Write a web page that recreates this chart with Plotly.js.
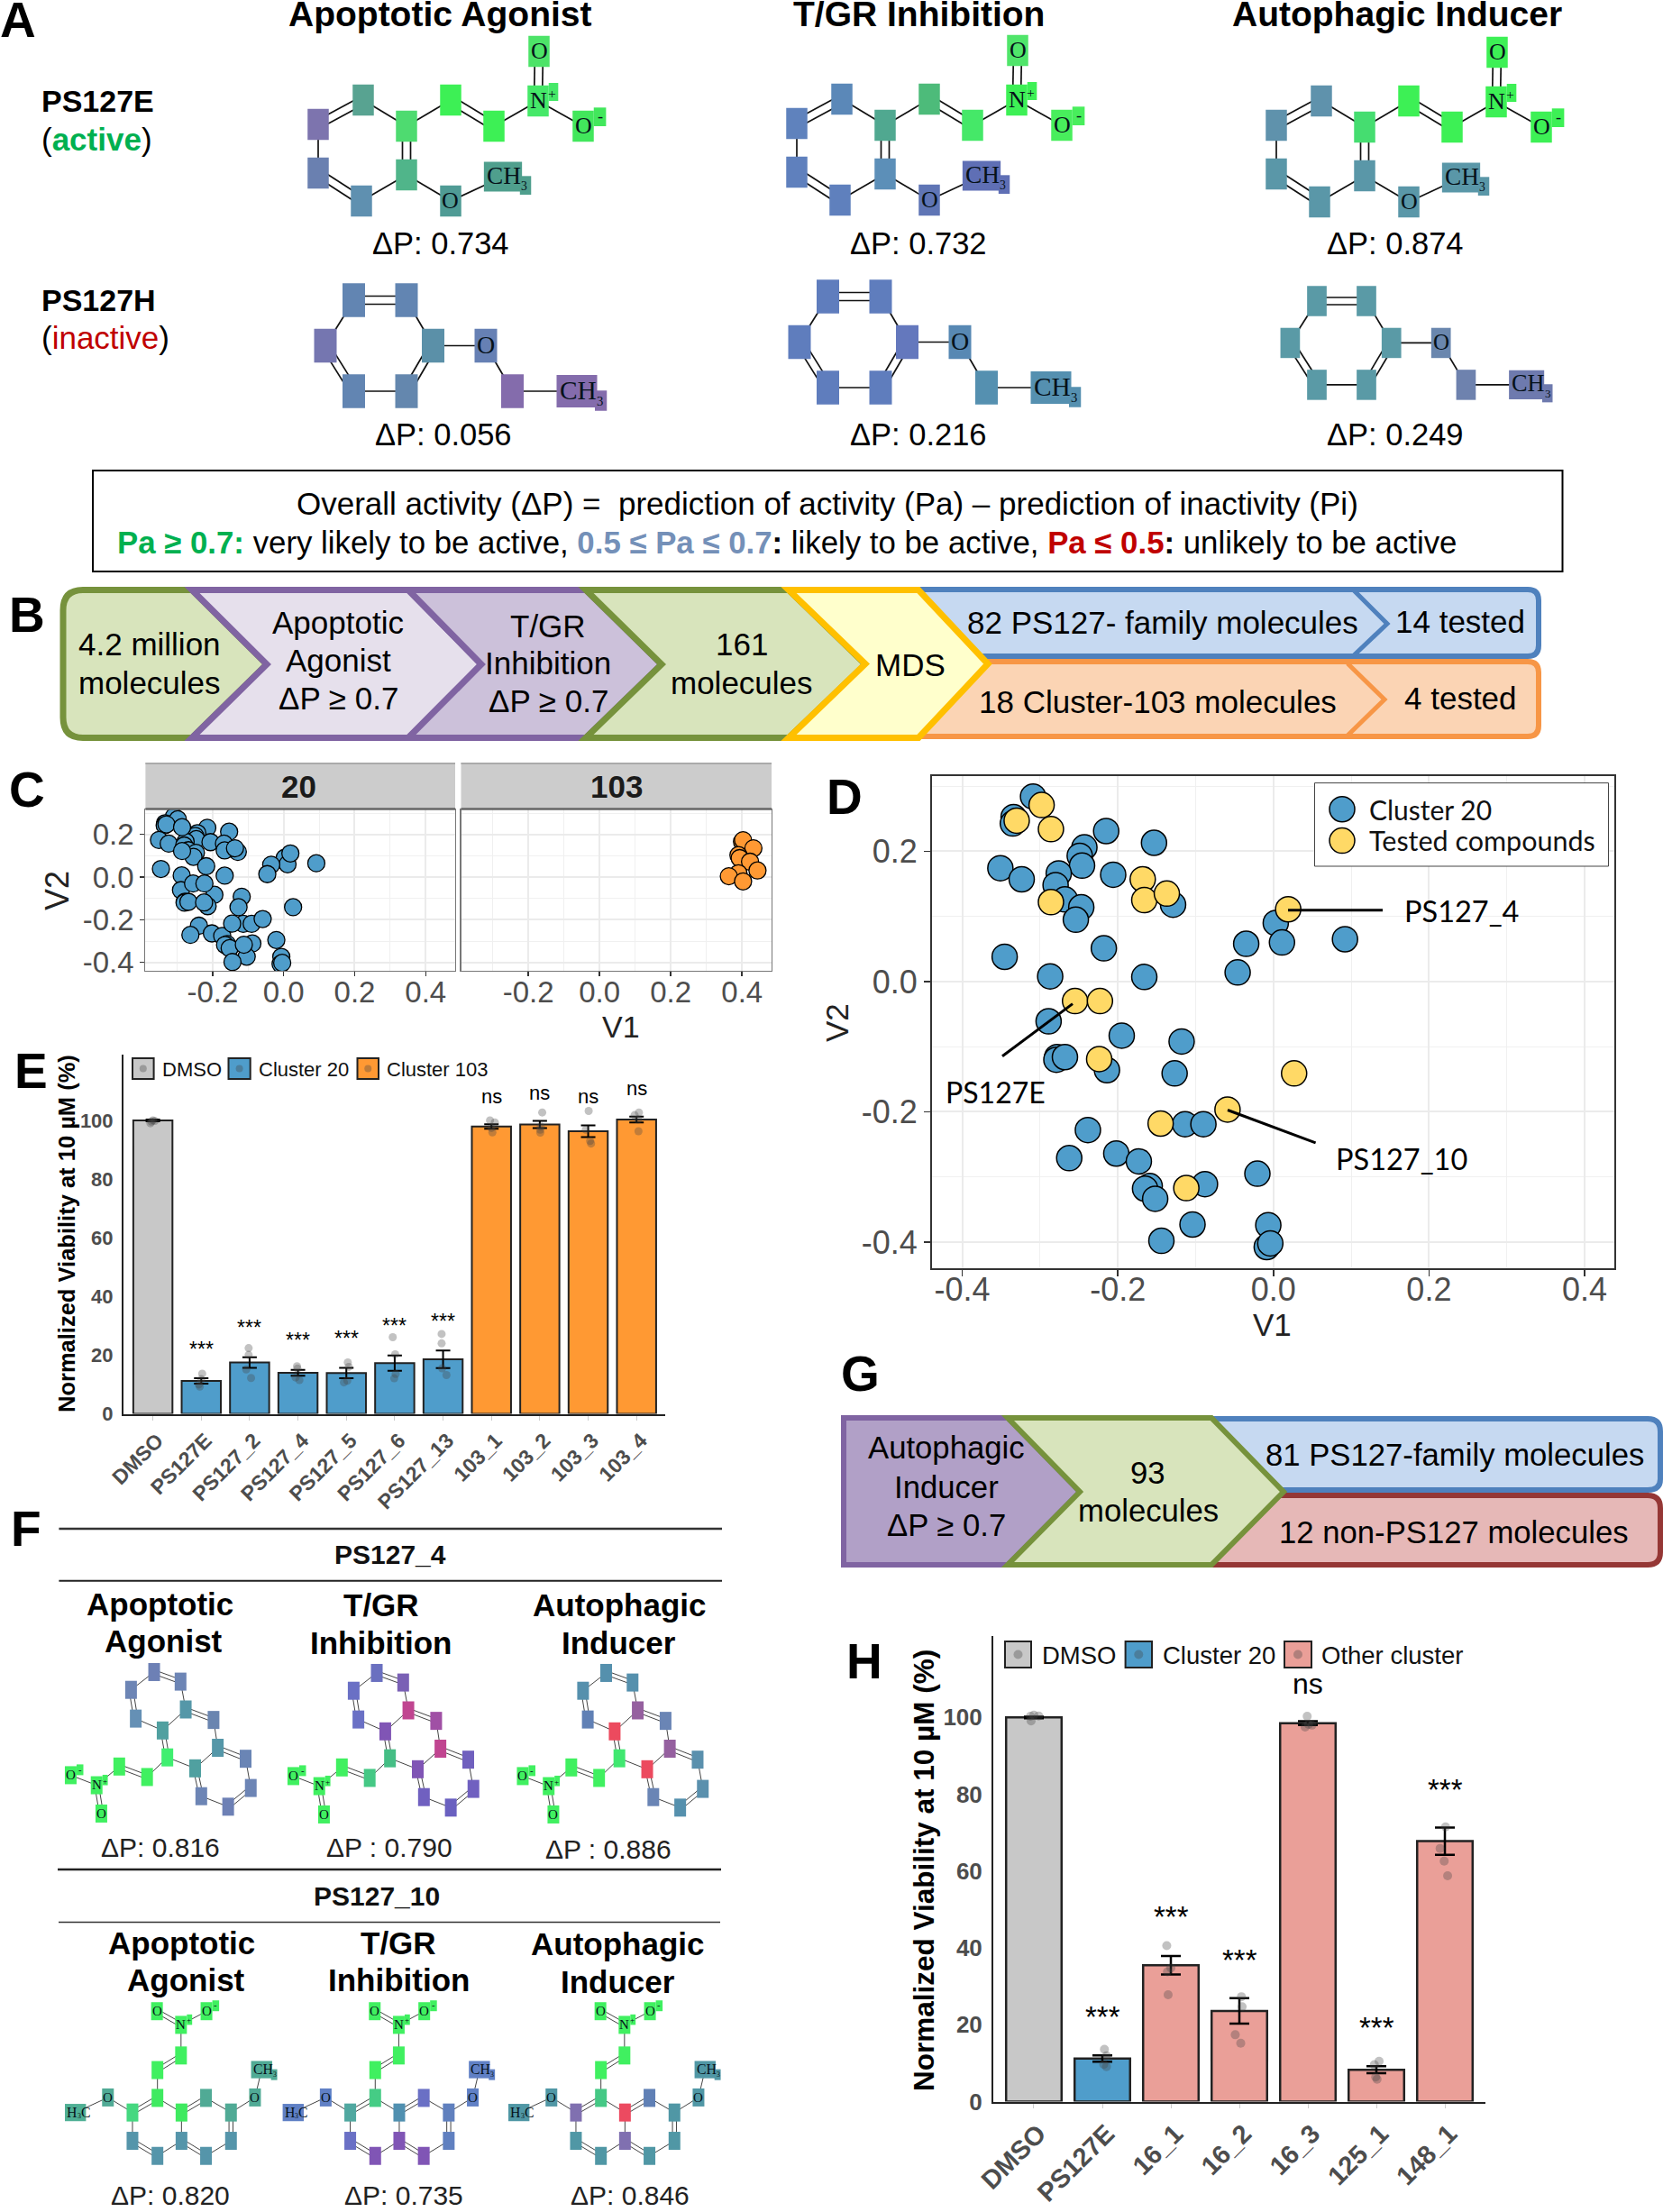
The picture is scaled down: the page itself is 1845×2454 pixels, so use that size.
<!DOCTYPE html>
<html><head><meta charset="utf-8">
<script src="https://cdn.plot.ly/plotly-3.0.1.min.js"></script>
<style>html,body{margin:0;padding:0;background:#fff}#g{width:1845px;height:2454px}</style>
</head><body><div id="g"></div>
<script>
// ---------- data ----------
const cluster20V1=[-0.309,-0.334,-0.335,-0.215,-0.1535,-0.243,-0.249,-0.246,-0.351,-0.3236,-0.276,-0.28,-0.206,-0.268,-0.247,-0.254,-0.129,0.003,0.011,0.092,-0.035,-0.046,-0.218,-0.3455,-0.287,-0.166,-0.289,-0.195,-0.118,-0.278,-0.279,-0.268,-0.214,-0.127,-0.2385,-0.1136,-0.09,-0.2625,-0.202,-0.173,-0.159,-0.165,-0.152,-0.088,-0.0206,-0.104,-0.144,-0.0066,-0.0086,-0.004];
const cluster20V2=[0.284,0.2525,0.2426,0.231,0.213,0.206,0.193,0.178,0.174,0.157,0.166,0.148,0.164,0.126,0.114,0.095,0.118,0.09,0.06,0.065,0.058,0.014,0.051,0.038,0.008,0.007,-0.061,-0.083,-0.092,-0.116,-0.12,-0.116,-0.136,-0.141,-0.228,-0.219,-0.219,-0.271,-0.264,-0.276,-0.314,-0.318,-0.3335,-0.311,-0.295,-0.373,-0.398,-0.374,-0.4076,-0.402];
const testedV1=[-0.298,-0.33,-0.286,-0.168,-0.166,-0.137,-0.286,0.019,-0.255,-0.223,-0.224,0.0266,-0.059,-0.145,-0.112];
const testedV2=[0.271,0.247,0.234,0.157,0.125,0.135,0.122,0.111,-0.03,-0.03,-0.119,-0.141,-0.1965,-0.218,-0.317];
const cluster103V1=[0.4,0.403,0.432,0.39,0.3935,0.4226,0.4435,0.39,0.363,0.403];
const cluster103V2=[0.166,0.173,0.135,0.103,0.089,0.072,0.031,0.018,0.004,-0.02];
const mdsTicks=[-0.4,-0.2,0,0.2,0.4];
const mdsTickText=['-0.4','-0.2','0.0','0.2','0.4'];

const eLabels=['DMSO','PS127E','PS127_2','PS127_4','PS127_5','PS127_6','PS127_13','103_1','103_2','103_3','103_4'];
const eMeans=[100,11.2,17.5,14,13.9,17.3,18.6,97.9,98.6,96.3,100.3];
const eErrors=[0.3,0.9,1.8,1,1.75,2.6,3,0.8,1.2,2,1];
const eGroups=[0,1,1,1,1,1,1,2,2,2,2];
const eSig=['','***','***','***','***','***','***','ns','ns','ns','ns'];
const eSigPos=[0,23.1,30.7,26.3,26.9,31.25,32.8,105.9,107,105.6,108.6];
const ePoints=[[99,100,99.8,99.6],[13.7,11.8,10,9.3],[22.4,20.1,15.1,12.2],[16.2,15.4,12.4,11.5],[17.5,16,11.3,10.7],[26.1,20.3,13.6,12.1],[27.2,24,15.5,13.2],[100,99.3,97.4,95.9],[102.7,97.9,96.8,95.8],[103.2,96.8,93,92.1],[102.7,101.8,100.3,96.3]];
const eJitter=[[-.05,0,.04,-.03],[.02,0,-.05,-.03],[-.02,-.02,-.07,.03],[-.02,-.01,-.05,.03],[.03,.05,.02,-.05],[-.04,.01,.02,-.01],[-.03,-.03,-.02,.07],[-.03,.07,0,.02],[.05,.02,.01,.01],[.01,-.05,.04,.06],[.05,-.04,.03,.04]];

const hLabels=['DMSO','PS127E','16_1','16_2','16_3','125_1','148_1'];
const hMeans=[100,11.2,35.5,23.6,98.5,8.3,67.8];
const hErrors=[0.2,0.8,2.4,3.3,0.5,0.9,3.55];
const hGroups=[0,1,2,2,2,2,2];
const hSig=['','***','***','***','ns','***','***'];
const hSigPos=[0,23.4,49.4,38.2,106.2,20.75,82.7];
const hPoints=[[100.3,100.6,100.4,99.1],[13.6,11.9,9.7,9.1],[40.6,34.8,33.8,27.8],[27.3,24.7,17.4,15.2],[100.3,98,97.5,98.2],[10.5,9.6,6.4,5.8],[71.5,65.9,62.6,58.8]];
const hJitter=[[-.05,0,.07,-.04],[.03,.06,.02,.06],[-.06,0,-.05,-.04],[.03,.04,-.06,.02],[-.01,.06,-.04,.01],[.04,-.03,-.01,.01],[.01,-.07,-.01,.04]];

// ---------- page helpers ----------
const W=1845,H=2454,SANS='Liberation Sans, Arial, sans-serif',SERIF='Liberation Serif, serif',CAL='Lato, sans-serif';
const px=x=>x/W, py=y=>1-y/H;
const shapes=[],ann=[];
function rect(x0,y0,x1,y1,fill,line,lw){shapes.push({type:'rect',xref:'paper',yref:'paper',x0:px(x0),x1:px(x1),y0:py(y1),y1:py(y0),fillcolor:fill,line:{color:line||fill,width:line?(lw||1):0}});}
function seg(x0,y0,x1,y1,c,lw){shapes.push({type:'line',xref:'paper',yref:'paper',x0:px(x0),x1:px(x1),y0:py(y0),y1:py(y1),line:{color:c,width:lw}});}
function circ(cx,cy,r,fill,line,lw){shapes.push({type:'circle',xref:'paper',yref:'paper',x0:px(cx-r),x1:px(cx+r),y0:py(cy+r),y1:py(cy-r),fillcolor:fill,line:{color:line||fill,width:line?lw:0}});}
function path(cmds,fill,line,lw){
  const d=cmds.map(c=>{const o=[c[0]];for(let i=1;i<c.length;i+=2){o.push(px(c[i]));o.push(py(c[i+1]));}return o.join(' ');}).join(' ')+' Z';
  shapes.push({type:'path',xref:'paper',yref:'paper',path:d,fillcolor:fill,line:{color:line,width:lw}});
}
function poly(pts,fill,line,lw){path(pts.map((p,i)=>[i?'L':'M',p[0],p[1]]),fill,line,lw);}
// horizontal text: x + baseline y; rotated text: x,y are the centre
function T(text,x,base,size,o){o=o||{};
  const y=o.rot?base:base-size*0.35;
  ann.push({text:text,xref:'paper',yref:'paper',x:px(x),y:py(y),xanchor:o.a||'center',yanchor:'middle',showarrow:false,borderpad:0,
    textangle:o.rot||0,font:{family:o.f||SANS,size:size,color:o.c||'#000'}});
}

// ---------- panel letters ----------
[['A',-1,41],['B',9,701],['C',9,895],['D',916,903],['E',15,1207],['F',11,1715],['G',932,1543],['H',938,1862]].forEach(l=>T('<b>'+l[0]+'</b>',l[1],l[2],55,{a:'left'}));

// ---------- molecule drawing ----------
function mol(def,colors,o){
  const X=x=>o.ox+(x-def.x0)*(o.sx||1), Y=y=>o.oy+(y-def.y0)*(o.sy||1);
  const lw=o.lw||1.5,dbl=o.dbl||4,bc=o.bc||'#111';
  def.bonds.forEach(b=>{
    const p=def.atoms[b[0]],q=def.atoms[b[1]];
    const x0=X(p[0]),y0=Y(p[1]),x1=X(q[0]),y1=Y(q[1]);
    if(b[2]===2){const dx=x1-x0,dy=y1-y0,l=Math.hypot(dx,dy),nx=-dy/l*dbl,ny=dx/l*dbl;
      seg(x0+nx,y0+ny,x1+nx,y1+ny,bc,lw);seg(x0-nx,y0-ny,x1-nx,y1-ny,bc,lw);
    } else seg(x0,y0,x1,y1,bc,lw);
  });
  Object.keys(def.atoms).forEach((k,i)=>{
    const a=def.atoms[k],cx=X(a[0]),cy=Y(a[1]),t=a[2]||'C',c=colors[i],w=o.w,h=o.h,fs=o.fs,lc='#06121a';
    const L=(s,x,b,sz,an)=>ann.push({text:s,xref:'paper',yref:'paper',x:px(x),y:py(b-sz*0.35),xanchor:an||'center',yanchor:'middle',showarrow:false,borderpad:0,font:{family:SERIF,size:sz,color:lc}});
    if(t==='CH3'||t==='H3C'){
      const ww=w*1.8,hh=h*0.96,lf=cx-ww/2,f=fs*1.05;
      rect(lf,cy-hh/2,cx+ww/2,cy+hh/2,c);
      if(t==='CH3'){
        rect(cx+ww/2-w*0.1,cy-h*0.02,cx+ww/2+w*0.43,cy+h*0.58,c);
        L('CH',lf+w*0.1,cy+f*0.31,f,'left');
        L('3',lf+w*0.1+f*1.39,cy+f*0.55,f*0.5,'left');
      } else {
        L('H',lf+w*0.1,cy+f*0.31,f,'left');
        L('3',lf+w*0.1+f*0.72,cy+f*0.45,f*0.5,'left');
        L('C',lf+w*0.1+f*0.98,cy+f*0.31,f,'left');
      }
    } else {
      rect(cx-w/2,cy-h/2,cx+w/2,cy+h/2,c);
      if(t==='N'){rect(cx+w/2,cy-h*0.58,cx+w*0.95,cy,c);L('N',cx,cy+fs*0.33,fs);L('+',cx+w*0.68,cy-fs*0.12,fs*0.6);}
      if(t==='O')L('O',cx,cy+fs*0.33,fs);
      if(t==='Om'){rect(cx+w/2,cy-h*0.6,cx+w*1.08,cy,c);L('O',cx,cy+fs*0.33,fs);L('-',cx+w*0.8,cy-fs*0.18,fs*0.7);}
    }
  });
}
const G1='#3DF055',G2='#45E868';
// PS127E
const molE={x0:353,y0:138,atoms:{a1:[353,138],a2:[403,111],a3:[451,140],a4:[500,111],a5:[548,140],N:[597,112,'N'],Ot:[598,57,'O'],Om:[647,140,'Om'],a6:[451,194],a7:[353,192],a8:[401,223],O:[500,223,'O'],CH:[558,196,'CH3']},
 bonds:[['a1','a2',2],['a2','a3'],['a3','a4'],['a4','a5',2],['a5','N'],['N','Ot',2],['N','Om'],['a3','a6',2],['a6','O'],['O','CH'],['a6','a8'],['a8','a7',2],['a7','a1']]};
const optE={w:23.5,h:34.5,fs:26,lw:1.7,dbl:4.5};
mol(molE,['#7D74AE','#58A391','#4EDB70',G1,G1,G2,'#4DE368','#42E75C','#50B58A','#6A80B0','#5F90B0','#4F9B95','#4F9F8D'],{...optE,ox:353,oy:138});
mol(molE,['#5F82BD','#5B88B8','#50A890','#4DBB7A',G2,G1,'#50E56A','#48EE5C','#5C8FB8','#5F80BD','#5F80BD','#5F75B5','#5F6FB5'],{...optE,ox:884,oy:137});
mol(molE,['#5F92AC','#5F92AC','#45DD70',G1,G1,G1,G1,G1,'#5A97A8','#5A97A8','#5A97A8','#5A97A8','#5A97A8'],{...optE,ox:1416,oy:139});
// PS127H
const molH={x0:392.5,y0:333,atoms:{b1:[392.5,333],b2:[451,333],b3:[480.5,383.5],b4:[451,434],b5:[392.5,434],b6:[361,383.5],O:[539,383.5,'O'],c:[568.5,434],CH:[640,434,'CH3']},
 bonds:[['b1','b2',2],['b2','b3'],['b3','b4',2],['b4','b5'],['b5','b6',2],['b6','b1'],['b3','O'],['O','c'],['c','CH']]};
mol(molH,['#6285B2','#6285B2','#5B90A8','#6487AE','#6285B2','#7576B0','#6680B4','#846CAC','#846CAC'],{w:25,h:37.5,fs:28,lw:1.7,dbl:4.5,ox:392.5,oy:333});
mol(molH,['#5F7DBD','#5F7DBD','#6478BD','#5F7DBD','#5F7DBD','#5F7DBD','#5788B3','#5590B0','#5590B0'],{w:25,h:37.5,fs:28,lw:1.7,dbl:4.5,ox:918.5,oy:329});
mol(molH,['#5A9AA6','#5A9AA6','#5A9AA6','#5A9AA6','#5A9AA6','#5A9AA6','#6A87AE','#6E82AE','#6E7AAE'],{w:21.7,h:33.5,fs:25,lw:1.7,dbl:4,sx:0.94,sy:0.92,ox:1461,oy:334});

// PS127_4 / PS127_10 are read in panel-F pixel units
const zx=z=>z*0.523, zy=z=>1660+z*0.5064;
function zAtoms(o){const r={};Object.keys(o).forEach(k=>{r[k]=[zx(o[k][0]),zy(o[k][1]),o[k][2]];});return r;}
const mol4={atoms:zAtoms({r1:[327,385],r2:[383,406],r3:[278,424],r4:[288,487],r5:[394,467],r6:[453,490],r7:[345,513],r8:[355,572],r9:[462,551],r10:[521,575],r11:[414,596],r12:[532,639],r13:[427,657],r14:[484,680],c1:[312,615],c2:[253,592],N:[205,633,'N'],Om:[150,611,'Om'],O:[215,695,'O']}),
 bonds:[['r1','r2',2],['r2','r5'],['r1','r3'],['r3','r4',2],['r4','r7'],['r5','r6',2],['r5','r7'],['r7','r8',2],['r8','r11'],['r11','r9'],['r9','r10',2],['r6','r9'],['r10','r12'],['r12','r14',2],['r14','r13'],['r13','r11',2],['r8','c1'],['c1','c2',2],['c2','N'],['N','Om'],['N','O',2]]};
mol4.x0=mol4.atoms.r1[0];mol4.y0=mol4.atoms.r1[1];
const optF={w:13,h:20,fs:15,lw:1,dbl:2.2,bc:'#444'};
const g='#40F060';
mol(mol4,['#6D80B5','#6D85B5','#6D85B5','#6590B5','#5597A8','#6A85B0','#50A0A0','#3FEF70','#5597A8','#6A85B5','#50A0A0','#6D85B5','#6D85B5','#6D80B5',g,g,g,g,g],{...optF,ox:mol4.x0,oy:mol4.y0});
mol(mol4,['#6A70C0','#7A60B5','#6A70C5','#6A70C5','#C04590','#A050A5','#8055B5','#45BE85','#C04590','#7060BE','#8055B5','#7060C0','#7060C0','#6A60C0','#45C885',g,g,g,g],{...optF,ox:mol4.x0+247,oy:mol4.y0+1});
mol(mol4,['#5590AD','#5590AD','#5590AD','#6080B5','#95609F','#6A85B5','#EC4A5E','#40E870','#95609F','#5A90AD','#EC4A5E','#5A90AD','#6A85B5','#5590AD',g,g,g,g,g],{...optF,ox:mol4.x0+501.5,oy:mol4.y0+1});
const mol10={atoms:zAtoms({O1:[333,1128,'O'],Om:[438,1128,'Om'],N:[384,1158,'N'],c1:[384,1225],c2:[334,1257],a:[334,1318],b:[281,1350],d:[385,1350],e:[437,1318],f:[490,1350],g:[281,1412],h:[334,1445],i:[385,1412],j:[437,1445],k:[490,1412],Ol:[229,1317,'O'],HC:[160,1350,'H3C'],Or:[541,1317,'O'],CH:[555,1256,'CH3']}),
 bonds:[['O1','N',2],['Om','N'],['N','c1'],['c1','c2',2],['c2','a'],['a','b',2],['a','d'],['d','e',2],['e','f'],['f','k',2],['k','j'],['j','i',2],['i','d'],['i','h'],['h','g',2],['g','b'],['b','Ol'],['Ol','HC'],['f','Or'],['Or','CH']]};
mol10.x0=mol10.atoms.c1[0];mol10.y0=mol10.atoms.c1[1];
mol(mol10,[g,g,g,g,g,'#3FEA60','#45D880','#3FEA60','#50AA95','#50AA95','#5595AA','#5595AA','#5595AA','#5595AA','#5595AA','#50AA95','#50B095','#50AA95','#50AA95'],{...optF,ox:mol10.x0,oy:mol10.y0});
mol(mol10,[g,g,g,g,g,'#45CC85','#50A8A0','#5090B0','#6A70C5','#6080BE','#6A70C5','#8055B5','#8055B5','#8055B5','#6080C0','#6080C5','#6080C5','#6080C5','#6080C5'],{...optF,ox:mol10.x0+241.6,oy:mol10.y0});
mol(mol10,[g,g,g,g,g,'#45C885','#8070B0','#EC4A60','#6080B5','#5097A5','#5097A5','#5097A5','#8070B0','#5097A5','#5097A5','#5097A5','#5097A5','#5097A5','#5097A5'],{...optF,ox:mol10.x0+492,oy:mol10.y0});

// ---------- panel A text ----------
[['Apoptotic Agonist',489],['T/GR Inhibition',1019],['Autophagic Inducer',1550]].forEach(t=>T('<b>'+t[0]+'</b>',t[1],29,39));
T('<b>PS127E</b>',45,124,34,{a:'left'});
T('(<b><span style="color:#00B050">active</span></b>)',45,167,35,{a:'left'});
T('<b>PS127H</b>',45,345,34,{a:'left'});
T('(<span style="color:#C00000">inactive</span>)',45,387,35,{a:'left'});
[['ΔP: 0.734',489,282],['ΔP: 0.732',1019,282],['ΔP: 0.874',1548,282],['ΔP: 0.056',492,494.5],['ΔP: 0.216',1019,494.5],['ΔP: 0.249',1548,494.5]].forEach(t=>T(t[0],t[1],t[2],34.5));
rect(103,522,1733.5,634,'rgba(0,0,0,0)','#000',2);
T('Overall activity (ΔP) =\u00A0\u00A0prediction of activity (Pa) – prediction of inactivity (Pi)',918,571,35);
T('<b><span style="color:#00B050">Pa ≥ 0.7:</span></b> very likely to be active, <b><span style="color:#7490B8">0.5 ≤ Pa ≤ 0.7</span>:</b> likely to be active, <b><span style="color:#C00000">Pa ≤ 0.5</span>:</b> unlikely to be active',873,614,34.8);

// ---------- panel B flow ----------
const GF='#D8E4BC',GL='#76923C',PL='#8064A2',LW=7;
path([['M',92,654.5],['L',213,654.5],['L',296,737],['L',213,818.5],['L',92,818.5],['Q',70,818.5,70,796],['L',70,677],['Q',70,654.5,92,654.5]],GF,GL,LW);
poly([[213,654.5],[453,654.5],[534,737],[453,818.5],[213,818.5],[296,737]],'#E6E0EC',PL,LW);
poly([[453,654.5],[650,654.5],[734,737],[650,818.5],[453,818.5],[534,737]],'#CCC1DA',PL,LW);
poly([[650,654.5],[875,654.5],[960,737],[875,818.5],[650,818.5],[734,737]],GF,GL,LW);
path([['M',1000,654],['L',1695,654],['Q',1707,654,1707,666],['L',1707,716],['Q',1707,728,1695,728],['L',1000,728]],'#C6D9F1','#4F81BD',6);
path([['M',1000,734],['L',1695,734],['Q',1707,734,1707,746],['L',1707,805],['Q',1707,817,1695,817],['L',1000,817]],'#FBD4B4','#F79646',6);
shapes.push({type:'path',xref:'paper',yref:'paper',path:`M ${px(1501)} ${py(654)} L ${px(1539)} ${py(692)} L ${px(1501)} ${py(728)}`,line:{color:'#4F81BD',width:5},fillcolor:'rgba(0,0,0,0)'});
shapes.push({type:'path',xref:'paper',yref:'paper',path:`M ${px(1495)} ${py(736)} L ${px(1536)} ${py(776)} L ${px(1495)} ${py(816)}`,line:{color:'#F79646',width:5},fillcolor:'rgba(0,0,0,0)'});
poly([[875,654.5],[1019,654.5],[1096,736.5],[1019,818.5],[875,818.5],[960,736.5]],'#FFFFCC','#FFC000',LW);
[['4.2 million',166,727],['molecules',166,770],['Apoptotic',375,703],['Agonist',375,745],['ΔP ≥ 0.7',375,787],['T/GR',608,707],['Inhibition',608,748],['ΔP ≥ 0.7',608,790],['161',823,727],['molecules',823,770],['MDS',1010,750],
 ['82 PS127- family molecules',1290,703],['14 tested',1620,702],['18 Cluster-103 molecules',1284,791],['4 tested',1620,787]].forEach(t=>T(t[0],t[1],t[2],35));

// ---------- panel C strips ----------
rect(161.4,846,505,897.7,'#CCCCCC');rect(511.5,846,856,897.7,'#CCCCCC');
seg(161.4,847,505,847,'#AAAAAA',2);seg(511.5,847,856,847,'#AAAAAA',2);
seg(161.4,897.5,505,897.5,'#666666',2.5);seg(511.5,897.5,856,897.5,'#666666',2.5);
T('<b>20</b>',331.7,885,35,{c:'#1a1a1a'});T('<b>103</b>',684,885,35,{c:'#1a1a1a'});
T('V1',689,1151,34,{c:'#222'});
T('V2',64,988,36,{c:'#222',rot:-90});

// ---------- panel D furniture ----------
rect(1458.5,868.6,1784.5,961,'#fff','#444',1);
circ(1489,897.7,14,'#4F9DCB','#000',1.5);circ(1489,932.6,14,'#FFD966','#000',1.5);
T('Cluster 20',1518,908,30,{a:'left',f:CAL,c:'#111'});T('Tested compounds',1518,943,30.5,{a:'left',f:CAL,c:'#111'});
seg(1429,1009.7,1534,1009.7,'#000',3);seg(1190,1113.6,1112,1171.7,'#000',3);seg(1362,1231.5,1459.6,1267.8,'#000',3);
T('PS127_4',1557,1022,32.5,{a:'left',f:CAL});T('PS127E',1048,1223,32,{a:'left',f:CAL});T('PS127_10',1481,1297,32.5,{a:'left',f:CAL});
T('V1',1411,1482,35,{c:'#222'});T('V2',929,1135,35,{c:'#222',rot:-90});

// ---------- panel E / H furniture ----------
function key(x0,x1,y0,y1,c,r){rect(x0,y0,x1,y1,c,'#222',2);circ((x0+x1)/2,(y0+y1)/2,r,'rgba(70,70,70,0.35)');}
key(147,170.6,1174,1197,'#C8C8C8',4);key(253.5,277.7,1174,1197,'#4F9DCB',4);key(396.5,420,1174,1197,'#FF9933',4);
T('DMSO',179,1194,22,{a:'left',c:'#111'});T('Cluster 20',286,1194,22,{a:'left',c:'#111'});T('Cluster 103',428,1194,22,{a:'left',c:'#111'});
T('<b>Normalized Viability at 10 µM (%)</b>',74,1369,25.5,{rot:-90});
key(1115,1144,1821,1850,'#C8C8C8',5);key(1248.6,1278,1821,1850,'#4F9DCB',5);key(1425,1455,1821,1850,'#EA9F98',5);
T('DMSO',1155,1846,27.5,{a:'left',c:'#111'});T('Cluster 20',1288.6,1846,27.5,{a:'left',c:'#111'});T('Other cluster',1465,1846,27.5,{a:'left',c:'#111'});
T('<b>Normalized Viability at 10 µM (%)</b>',1025,2075,31.5,{rot:-90});

// ---------- panel F text ----------
const LC='#333';
seg(65.4,1696,801,1696,LC,2.5);seg(65.4,1753.7,801,1753.7,'#222',2);seg(64,2074,800,2074,'#222',2.5);seg(65,2132.5,799,2132.5,LC,1.5);
T('<b>PS127_4</b>',432.5,1735,30,{c:'#111'});T('<b>PS127_10</b>',418,2114,30,{c:'#111'});
[['Apoptotic',177,1792],['Agonist',181.5,1833],['T/GR',422.6,1793],['Inhibition',422.6,1835],['Autophagic',686.7,1793],['Inducer',686.7,1835],
 ['Apoptotic',201,2167.4],['Agonist',206.6,2209],['T/GR',442,2167.4],['Inhibition',442,2209],['Autophagic',685,2169],['Inducer',685,2210.5]].forEach(t=>T('<b>'+t[0]+'</b>',t[1],t[2],35));
[['ΔP: 0.816',178,2060],['ΔP : 0.790',431.5,2060],['ΔP : 0.886',675,2061.5],['ΔP: 0.820',189,2446],['ΔP: 0.735',448,2446],['ΔP: 0.846',699,2446]].forEach(t=>T(t[0],t[1],t[2],30,{c:'#222'}));

// ---------- panel G flow ----------
path([['M',1346,1574],['L',1828,1574],['Q',1842,1574,1842,1588],['L',1842,1641],['Q',1842,1653,1828,1653],['L',1346,1653]],'#C6D9F1','#4F81BD',6);
path([['M',1346,1659],['L',1828,1659],['Q',1842,1659,1842,1673],['L',1842,1722],['Q',1842,1736,1828,1736],['L',1346,1736]],'#E6B8B7','#953735',6);
poly([[936,1573],[1118,1573],[1198,1655],[1118,1736],[936,1736]],'#B1A0C7',PL,6);
poly([[1118,1573],[1344,1573],[1424,1655],[1344,1736],[1118,1736],[1198,1655]],GF,GL,6);
[['Autophagic',1049.5,1618],['Inducer',1049.5,1662],['ΔP ≥ 0.7',1049.5,1704],['93',1273.7,1646],['molecules',1273.7,1688],['81 PS127-family molecules',1614,1626],['12 non-PS127 molecules',1613,1712]].forEach(t=>T(t[0],t[1],t[2],34.7));

// ---------- significance labels through the chart axes ----------
function sig(arr,pos,ax,size,nsSize){arr.forEach((s,i)=>{if(!s)return;
  const ns=s==='ns',fs=ns?nsSize:size;
  ann.push({text:s,xref:ax[0],yref:ax[1],x:i,y:pos[i],showarrow:false,xanchor:'center',yanchor:'middle',borderpad:0,yshift:ns?fs*0.35:-fs*0.18,font:{family:SANS,size:fs,color:'#000'}});
});}
sig(eSig,eSigPos,['x4','y4'],23,22);
sig(hSig,hSigPos,['x5','y5'],33,32);

// ---------- traces ----------
const BLUE='#4F9DCB',YEL='#FFD966',ORG='#FF9933',GREY='#C8C8C8',SALMON='#EA9F98';
const traces=[
 {type:'scatter',mode:'markers',x:cluster20V1.concat(testedV1),y:cluster20V2.concat(testedV2),xaxis:'x',yaxis:'y',marker:{size:19,color:BLUE,line:{color:'#000',width:1.3}}},
 {type:'scatter',mode:'markers',x:cluster103V1,y:cluster103V2,xaxis:'x2',yaxis:'y2',marker:{size:19,color:ORG,line:{color:'#000',width:1.3}}},
 {type:'scatter',mode:'markers',x:cluster20V1,y:cluster20V2,xaxis:'x3',yaxis:'y3',marker:{size:28,color:BLUE,line:{color:'#000',width:1.5}}},
 {type:'scatter',mode:'markers',x:testedV1,y:testedV2,xaxis:'x3',yaxis:'y3',marker:{size:28,color:YEL,line:{color:'#000',width:1.5}}},
 {type:'bar',x:eLabels.map((_,i)=>i),y:eMeans,width:0.81,xaxis:'x4',yaxis:'y4',marker:{color:eGroups.map(g=>[GREY,BLUE,ORG][g]),line:{color:'#222',width:2}},
  error_y:{type:'data',array:eErrors,visible:true,color:'#000',thickness:2,width:8}},
 {type:'scatter',mode:'markers',x:ePoints.flatMap((p,i)=>p.map((_,j)=>i+eJitter[i][j])),y:ePoints.flat(),xaxis:'x4',yaxis:'y4',marker:{size:9,color:'rgba(70,70,70,0.33)'}},
 {type:'bar',x:hLabels.map((_,i)=>i),y:hMeans,width:0.81,xaxis:'x5',yaxis:'y5',marker:{color:hGroups.map(g=>[GREY,BLUE,SALMON][g]),line:{color:'#222',width:2.5}},
  error_y:{type:'data',array:hErrors,visible:true,color:'#000',thickness:2.5,width:11}},
 {type:'scatter',mode:'markers',x:hPoints.flatMap((p,i)=>p.map((_,j)=>i+hJitter[i][j])),y:hPoints.flat(),xaxis:'x5',yaxis:'y5',marker:{size:10,color:'rgba(70,70,70,0.33)'}}
];
const TICK='#4d4d4d';
function scatterAxis(dom,range,size,anchor,line,lw,tl,standoff){return {domain:dom,range:range,anchor:anchor,tickmode:'array',tickvals:mdsTicks,ticktext:mdsTickText,showgrid:true,gridcolor:'#ebebeb',gridwidth:2,zeroline:false,
  minor:{dtick:0.1,tick0:0,showgrid:true,gridcolor:'#f0f0f0',gridwidth:1},showline:true,mirror:true,linecolor:line,linewidth:lw,ticks:'outside',ticklen:tl,tickwidth:1.5,tickcolor:'#333',
  ticklabelstandoff:standoff||0,tickfont:{family:SANS,size:size,color:TICK},fixedrange:true};}
function barX(dom,range,labels,anchor,size){return {domain:dom,range:range,anchor:anchor,tickmode:'array',tickvals:labels.map((_,i)=>i),ticktext:labels.map(l=>'<b>'+l+'</b>'),tickangle:-45,ticklabelshift:5,showgrid:false,zeroline:false,showline:true,linecolor:'#222',linewidth:2,ticks:'outside',ticklen:5,tickwidth:1,tickcolor:'#ccc',tickfont:{family:SANS,size:size,color:TICK},fixedrange:true};}
function barY(dom,range,anchor,size){return {domain:dom,range:range,anchor:anchor,tickmode:'array',tickvals:[0,20,40,60,80,100],ticktext:[0,20,40,60,80,100].map(v=>'<b>'+v+'</b>'),showgrid:false,zeroline:false,showline:true,linecolor:'#222',linewidth:2,ticks:'outside',ticklen:5,tickcolor:'rgba(0,0,0,0)',tickfont:{family:SANS,size:size,color:TICK},fixedrange:true};}
const cY=[py(1077),py(897.7)],cXr=[-0.389,0.483],cYr=[-0.4393,0.3184];
const layout={width:W,height:H,margin:{l:0,r:0,t:0,b:0,pad:0},paper_bgcolor:'#fff',plot_bgcolor:'#fff',showlegend:false,bargap:0.19,hovermode:false,
 xaxis:scatterAxis([px(161.4),px(505)],cXr,33,'y','#777',1.2,5,-11),
 yaxis:scatterAxis(cY,cYr,33,'x','#777',1.2,5),
 xaxis2:scatterAxis([px(511.5),px(856)],cXr,33,'y2','#777',1.2,5,-11),
 yaxis2:{...scatterAxis(cY,cYr,33,'x2','#777',1.2,0),showticklabels:false},
 xaxis3:scatterAxis([px(1034),px(1791.4)],[-0.4389,0.4387],36,'y3','#333',2,7,-17),
 yaxis3:scatterAxis([py(1407.4),py(861)],[-0.4407,0.3154],36,'x3','#333',2,7),
 xaxis4:barX([px(137),px(737.7)],[-0.6075,10.587],eLabels,'y4',23),
 yaxis4:barY([py(1568.5),py(1170)],[0,122.4],'x4',22),
 xaxis5:barX([px(1102),px(1648)],[-0.592,6.592],hLabels,'y5',29),
 yaxis5:barY([py(2331.5),py(1815)],[0,121.2],'x5',26),
 shapes:shapes,annotations:ann};
Plotly.newPlot('g',traces,layout,{displayModeBar:false,staticPlot:true});
</script></body></html>
